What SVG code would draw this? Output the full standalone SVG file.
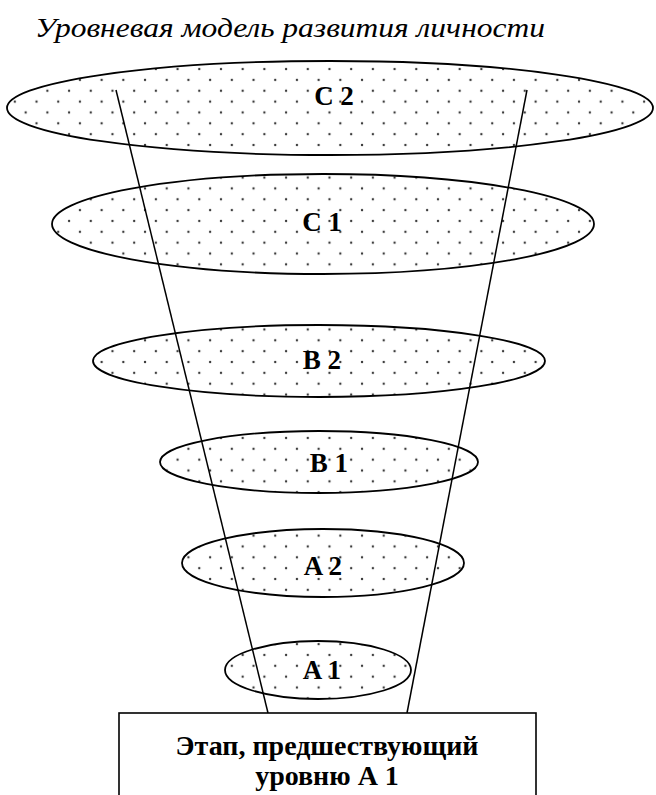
<svg xmlns="http://www.w3.org/2000/svg" width="656" height="795" viewBox="0 0 656 795">
  <defs>
    <pattern id="dots" patternUnits="userSpaceOnUse" x="0" y="0" width="21.7" height="21.7">
      <circle cx="4" cy="4" r="1.2" fill="#3a3a3a"/>
      <circle cx="14.85" cy="14.85" r="1.2" fill="#3a3a3a"/>
    </pattern>
  </defs>
  <style>
    .lvl { fill: url(#dots); stroke: #000; stroke-width: 1.8; }
    .lbl { font-family: "Liberation Serif", "Times New Roman", serif; font-weight: bold; font-size: 27px; fill: #000; text-anchor: middle; }
    .stg { font-family: "Liberation Serif", "Times New Roman", serif; font-weight: bold; font-size: 28px; fill: #000; text-anchor: middle; }
    .title { font-family: "Liberation Serif", "Times New Roman", serif; font-style: italic; font-size: 27px; fill: #000; }
    .conn { stroke: #000; stroke-width: 1.5; fill: none; }
    .box { fill: #fff; stroke: #000; stroke-width: 1.6; }
  </style>
  <rect width="656" height="795" fill="#fff"/>
  <text class="title" x="35" y="37" textLength="510" lengthAdjust="spacingAndGlyphs">Уровневая модель развития личности</text>

  <g id="C2"><ellipse class="lvl" cx="330" cy="108" rx="323" ry="47"/></g>
  <g id="C1"><ellipse class="lvl" cx="323" cy="224" rx="271" ry="50"/></g>
  <g id="B2"><ellipse class="lvl" cx="319" cy="361" rx="226" ry="36"/></g>
  <g id="B1"><ellipse class="lvl" cx="319" cy="462" rx="159" ry="31"/></g>
  <g id="A2"><ellipse class="lvl" cx="323" cy="563" rx="141" ry="34"/></g>
  <g id="A1"><ellipse class="lvl" cx="318" cy="670" rx="93" ry="29"/></g>

  <g id="connectors">
    <line class="conn" x1="116" y1="90" x2="268" y2="713"/>
    <line class="conn" x1="527" y1="90" x2="407" y2="713"/>
  </g>

  <g id="labels">
    <text class="lbl" x="334" y="105">C 2</text>
    <text class="lbl" x="322" y="231">C 1</text>
    <text class="lbl" x="322" y="369">B 2</text>
    <text class="lbl" x="329" y="472">B 1</text>
    <text class="lbl" x="323" y="575">A 2</text>
    <text class="lbl" x="322" y="679">A 1</text>
  </g>

  <g id="stage">
    <rect class="box" x="119" y="713" width="417" height="100"/>
    <text class="stg" x="327" y="755">Этап, предшествующий</text>
    <text class="stg" x="327" y="785">уровню А 1</text>
  </g>
</svg>
